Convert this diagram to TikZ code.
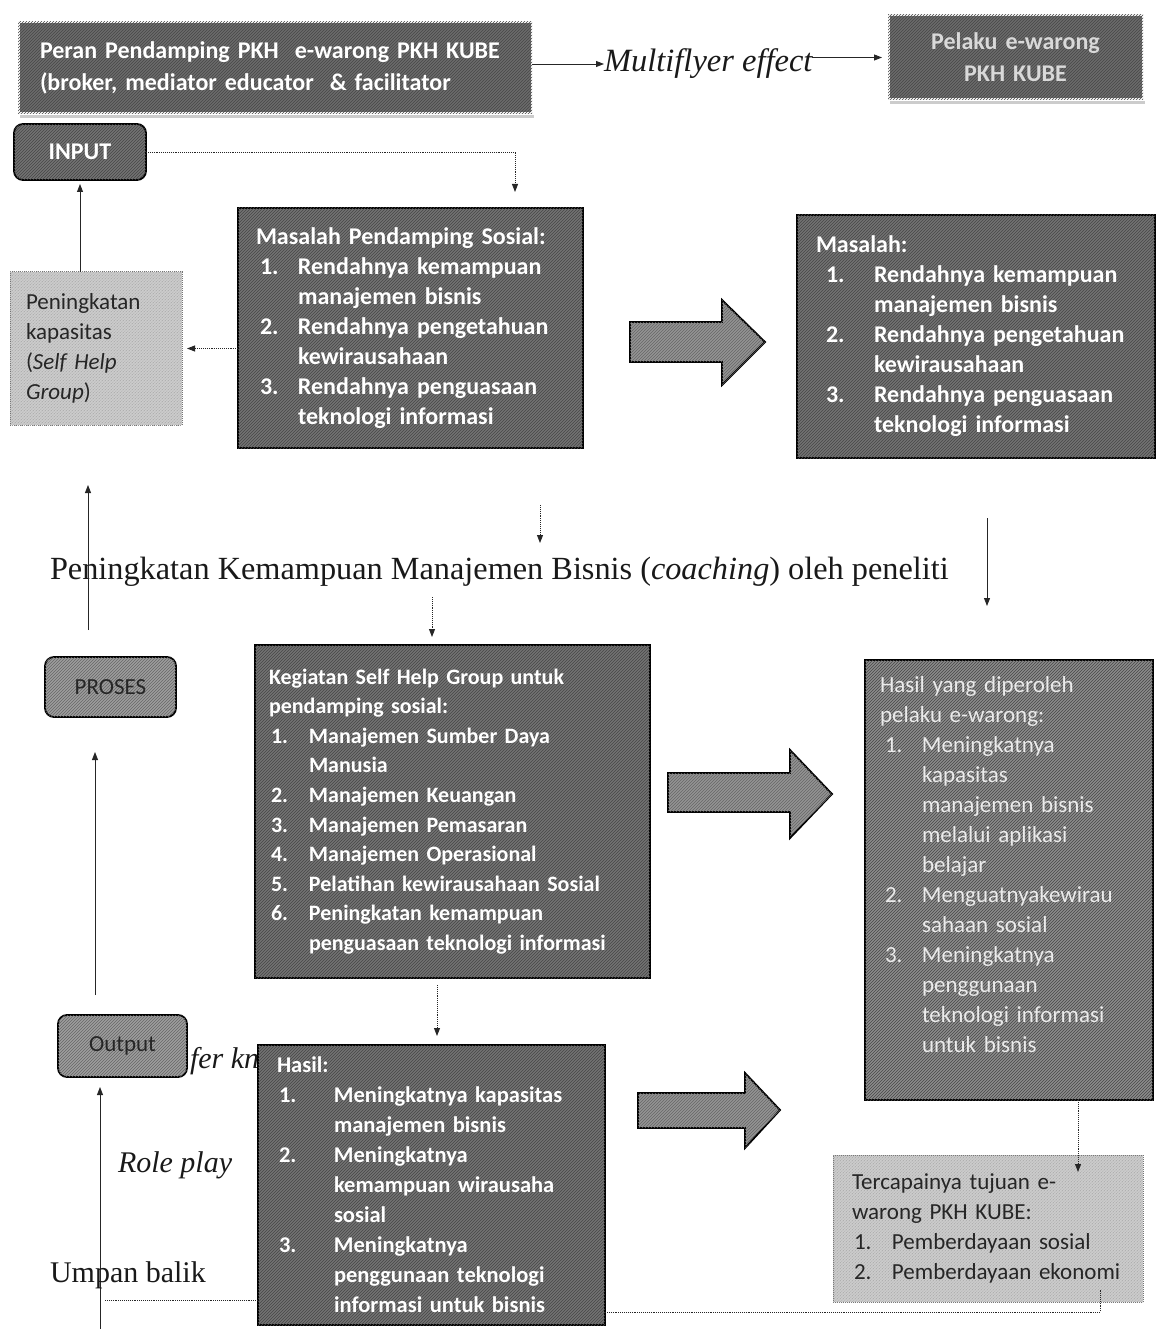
\documentclass[tikz,border=0pt]{standalone}
\usepackage{fontspec}
\setmainfont{Liberation Serif}
\newfontfamily\calfont{Carlito}
\usetikzlibrary{arrows.meta,patterns,shadows}
\newcommand\nm[2]{\makebox[#1][l]{#2}}
\newcommand\ind[1]{\hspace*{#1}}
\begin{document}
\begin{tikzpicture}[x=1pt,y=-1pt,
  every node/.style={inner sep=0pt,outer sep=0pt},
  hatchdark/.style={postaction={pattern=north east lines,pattern color=black!72}},
  hatchmid/.style={postaction={pattern=north east lines,pattern color=black!60}},
  hatchlight/.style={postaction={pattern=north east lines,pattern color=black!35}},
  darkbox/.style={draw=black,line width=1.8pt,fill=black!55,hatchdark,text=white,
    font=\calfont\bfseries\fontsize{24}{30}\selectfont,align=left,anchor=north west},
  topbox/.style={draw=white,line width=3pt,fill=black!58,
    drop shadow={shadow xshift=2pt,shadow yshift=-4pt,fill=black!40},hatchdark,text=white,
    font=\calfont\bfseries\fontsize{24}{32}\selectfont,anchor=north west},
  midbox/.style={draw=black,line width=1.8pt,fill=black!38,hatchmid,rounded corners=9pt,
    text=black!85,font=\calfont\fontsize{23}{28}\selectfont,anchor=north west},
  lightbox/.style={draw=black!55,densely dotted,line width=1pt,fill=black!20,hatchlight,
    text=black!85,font=\calfont\fontsize{23}{30}\selectfont,align=left,anchor=north west},
  serif/.style={text=black!90,font=\fontsize{30}{34}\selectfont},
  serifit/.style={text=black!90,font=\itshape\fontsize{30}{34}\selectfont},
  conn/.style={line width=0.9pt,draw=black!85,-{Triangle[length=8pt,width=6pt]}},
  dconn/.style={line width=0.9pt,draw=black!85,densely dotted,-{Triangle[length=8pt,width=6pt]}},
  dline/.style={line width=0.9pt,draw=black!85,densely dotted},
  blockarrow/.style={draw=black,line width=1.8pt,fill=black!42,hatchmid,line join=miter}
]
\useasboundingbox (0,0) rectangle (1157,1329);

% ---------- top row ----------
\node[topbox,minimum width=514pt,minimum height=92pt,text width=470pt,align=left] (peran) at (18,22)
  {Peran Pendamping PKH\ \ e-warong PKH KUBE\\(broker, mediator educator\ \ \& facilitator};
\node[topbox,minimum width=255pt,minimum height=85pt,text width=231pt,align=center,text=black!15] (pelaku) at (888,15)
  {Pelaku e-warong\\PKH KUBE};
\node[serifit,font=\itshape\fontsize{32.5}{36}\selectfont,anchor=west] (mult) at (604,64) {Multiflyer effect};
\draw[conn] (peran.east |- mult.west) -- (mult.west);
\draw[conn,shorten >=6pt] (mult.east |- pelaku.west) -- (pelaku.west);

% ---------- INPUT ----------
\node[darkbox,rounded corners=9pt,minimum width=132pt,minimum height=56pt,align=center] (input) at (14,124) {INPUT};

% ---------- Peningkatan kapasitas ----------
\node[lightbox,minimum width=172pt,minimum height=153pt,text width=140pt] (pkap) at (10,272)
  {Peningkatan\\kapasitas\\(\textit{Self Help}\\\textit{Group})};

% ---------- Masalah pendamping sosial ----------
\node[darkbox,minimum width=345pt,minimum height=240pt,text width=309pt] (mps) at (238,208)
  {Masalah Pendamping Sosial:\\
   \ind{4pt}\nm{38pt}{1.}Rendahnya kemampuan\\
   \ind{42pt}manajemen bisnis\\
   \ind{4pt}\nm{38pt}{2.}Rendahnya pengetahuan\\
   \ind{42pt}kewirausahaan\\
   \ind{4pt}\nm{38pt}{3.}Rendahnya penguasaan\\
   \ind{42pt}teknologi informasi};

\coordinate (c1) at (515,192);
\draw[dconn] (input.east) -| (c1);
\draw[dconn,shorten >=5pt] (mps.west |- pkap.east) -- (pkap.east);
\draw[conn,shorten >=4pt] (input.south |- pkap.north) -- (input.south);

% ---------- Masalah (right) ----------
\node[darkbox,minimum width=358pt,minimum height=243pt,text width=320pt] (mr) at (797,215)
  {Masalah:\\
   \ind{10pt}\nm{48pt}{1.}Rendahnya kemampuan\\
   \ind{58pt}manajemen bisnis\\
   \ind{10pt}\nm{48pt}{2.}Rendahnya pengetahuan\\
   \ind{58pt}kewirausahaan\\
   \ind{10pt}\nm{48pt}{3.}Rendahnya penguasaan\\
   \ind{58pt}teknologi informasi};

\draw[blockarrow] (630,322) -- (722,322) -- (722,300) -- (765,342) -- (722,385) -- (722,362) -- (630,362) -- cycle;

% ---------- coaching line ----------
\node[serif,font=\fontsize{32.3}{36}\selectfont,anchor=west] (coach) at (50,572) {Peningkatan Kemampuan Manajemen Bisnis (\textit{coaching}) oleh peneliti};
\coordinate (d1) at (540,505);
\coordinate (d2) at (540,543);
\draw[dconn] (d1) -- (d2);
\coordinate (r1) at (987,518);
\coordinate (r2) at (987,606);
\draw[conn] (r1) -- (r2);

% ---------- PROSES ----------
\node[midbox,minimum width=131pt,minimum height=60pt] (proses) at (45,657) {PROSES};

% ---------- Kegiatan ----------
\node[darkbox,minimum width=395pt,minimum height=333pt,text width=367pt,
  font=\calfont\bfseries\fontsize{22}{29.6}\selectfont] (keg) at (255,645)
  {Kegiatan Self Help Group untuk\\
   pendamping sosial:\\
   \ind{2pt}\nm{38pt}{1.}Manajemen Sumber Daya\\
   \ind{40pt}Manusia\\
   \ind{2pt}\nm{38pt}{2.}Manajemen Keuangan\\
   \ind{2pt}\nm{38pt}{3.}Manajemen Pemasaran\\
   \ind{2pt}\nm{38pt}{4.}Manajemen Operasional\\
   \ind{2pt}\nm{38pt}{5.}Pelatihan kewirausahaan Sosial\\
   \ind{2pt}\nm{38pt}{6.}Peningkatan kemampuan\\
   \ind{40pt}penguasaan teknologi informasi};
\coordinate (k1) at (432,597);
\draw[dconn,shorten >=8pt] (k1) -- (k1 |- keg.north);

\draw[blockarrow] (668,773) -- (790,773) -- (790,750) -- (832,794) -- (790,838) -- (790,812) -- (668,812) -- cycle;

% ---------- Hasil yang diperoleh ----------
\node[darkbox,fill=black!45,text=black!8,minimum width=288pt,minimum height=440pt,text width=258pt,
  font=\calfont\fontsize{23}{30}\selectfont] (hyd) at (865,660)
  {Hasil yang diperoleh\\
   pelaku e-warong:\\
   \ind{5pt}\nm{37pt}{1.}Meningkatnya\\
   \ind{42pt}kapasitas\\
   \ind{42pt}manajemen bisnis\\
   \ind{42pt}melalui aplikasi\\
   \ind{42pt}belajar\\
   \ind{5pt}\nm{37pt}{2.}Menguatnyakewirau\\
   \ind{42pt}sahaan sosial\\
   \ind{5pt}\nm{37pt}{3.}Meningkatnya\\
   \ind{42pt}penggunaan\\
   \ind{42pt}teknologi informasi\\
   \ind{42pt}untuk bisnis\\
   \mbox{}};

% ---------- left vertical arrows ----------
\draw[conn,shorten <=27pt,shorten >=60pt] (proses.north -| 88,0) -- (pkap.south -| 88,0);

% ---------- Output ----------
\node[serifit,anchor=base west] (tk) at (190,1068) {fer kn};
\node[midbox,minimum width=129pt,minimum height=62pt] (output) at (58,1015) {Output};
\draw[conn,shorten <=20pt,shorten >=35pt] (output.north -| 95,0) -- (proses.south -| 95,0);
\coordinate (b1) at (100,1329);
\draw[conn,shorten >=10pt] (b1) -- (b1 |- output.south);

% ---------- Hasil ----------
\node[darkbox,minimum width=347pt,minimum height=280pt,text width=309pt,
  font=\calfont\bfseries\fontsize{22.5}{30}\selectfont] (hasil) at (258,1045)
  {Hasil:\\
   \ind{2pt}\nm{55pt}{1.}Meningkatnya kapasitas\\
   \ind{57pt}manajemen bisnis\\
   \ind{2pt}\nm{55pt}{2.}Meningkatnya\\
   \ind{57pt}kemampuan wirausaha\\
   \ind{57pt}sosial\\
   \ind{2pt}\nm{55pt}{3.}Meningkatnya\\
   \ind{57pt}penggunaan teknologi\\
   \ind{57pt}informasi untuk bisnis};
\draw[dconn,shorten <=7pt,shorten >=9pt] (keg.south -| 437,0) -- (hasil.north -| 437,0);

\draw[blockarrow] (638,1093) -- (745,1093) -- (745,1073) -- (780,1110) -- (745,1148) -- (745,1128) -- (638,1128) -- cycle;

% ---------- Tercapainya ----------
\node[lightbox,minimum width=310pt,minimum height=147pt,text width=272pt] (terc) at (833,1155)
  {Tercapainya tujuan e-\\
   warong PKH KUBE:\\
   \ind{2pt}\nm{38pt}{1.}Pemberdayaan sosial\\
   \ind{2pt}\nm{38pt}{2.}Pemberdayaan ekonomi};
\coordinate (t1) at (1078,1172);
\draw[dconn] (hyd.south -| t1) -- (t1);

% ---------- labels and feedback ----------
\node[serifit,anchor=west] (rp) at (118,1165) {Role play};
\node[serif,anchor=west] (ub) at (50,1275) {Umpan balik};
\coordinate (f1) at (105,1300);
\draw[dline] (f1) -- (f1 -| hasil.west);
\coordinate (f2) at (1100,1312);
\draw[dline] (hasil.east |- f2) -- (f2) -- ++(0,-22);
\end{tikzpicture}
\end{document}
